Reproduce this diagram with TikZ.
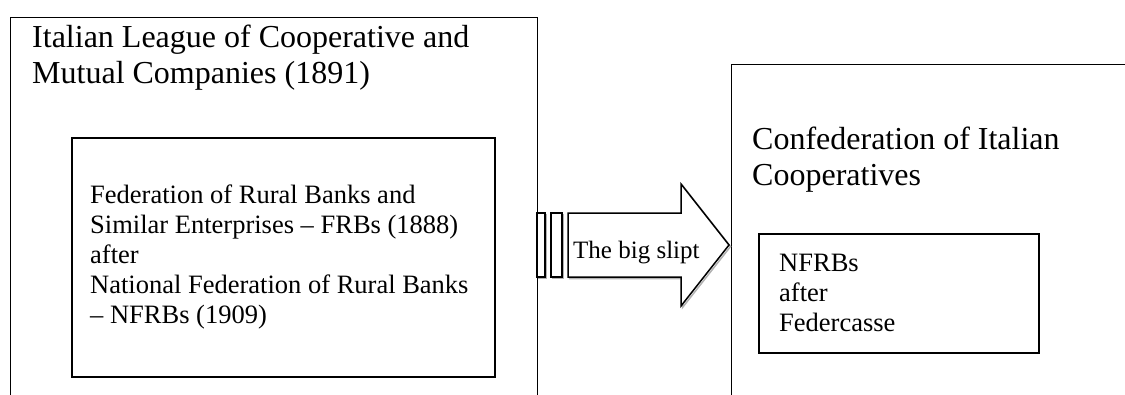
\documentclass[tikz,border=0pt]{standalone}
\usepackage{fontspec}
\setmainfont{Liberation Serif}

\begin{document}
\begin{tikzpicture}[x=1pt,y=-1pt,
outer/.style={draw,line width=1.3pt,anchor=north west,inner sep=0pt},
inner/.style={draw,line width=2pt,anchor=north west,inner sep=0pt},
title/.style={anchor=base west,inner sep=0pt,align=left,font=\fontsize{32}{36}\selectfont},
body/.style={anchor=base west,inner sep=0pt,align=left,font=\fontsize{26.5}{30}\selectfont},
slip/.style={draw,line width=1.5pt,fill=white,
  preaction={draw=black!30,line width=1.5pt,transform canvas={xshift=1.5pt,yshift=-1.5pt}}}]
\useasboundingbox (0,0) rectangle (1125,394);
\clip (0,0) rectangle (1125,394);
% boxes (the outer two run off the page)
\node[outer,minimum width=527pt,minimum height=420pt] (league) at (10,17) {};
\node[outer,minimum width=420pt,minimum height=380pt] (confed) at (731,64) {};
\node[inner,minimum width=423pt,minimum height=239pt] (frb) at (71,137) {};
\node[inner,minimum width=280pt,minimum height=119pt] (fedcasse) at (758,233) {};
% text nodes sit on the baseline of their last line
\node[title] (leaguetxt) at (32,83) {Italian League of Cooperative and\\Mutual Companies (1891)};
\node[title] (confedtxt) at (752,185) {Confederation of Italian\\Cooperatives};
\node[body] (frbtxt) at (90,323) {Federation of Rural Banks and\\Similar Enterprises – FRBs (1888)\\after\\National Federation of Rural Banks\\– NFRBs (1909)};
\node[body] (fedcassetxt) at (779,331) {NFRBs\\after\\Federcasse};
% striped block arrow between the two
\coordinate (tail) at (568,245);
\coordinate (tip) at (729,245);
\draw[slip] (537,213) rectangle (545,277);
\draw[slip] (551,213) rectangle (562,277);
\draw[slip] (tail) ++(0,-32) -- ++(113,0) -- ++(0,-29) -- (tip) -- ++(-48,61) -- ++(0,-29) -- ++(-113,0) -- cycle;
\node[body,font=\fontsize{25}{30}\selectfont] (slipt) at (573,258) {The big slipt};
\end{tikzpicture}
\end{document}
